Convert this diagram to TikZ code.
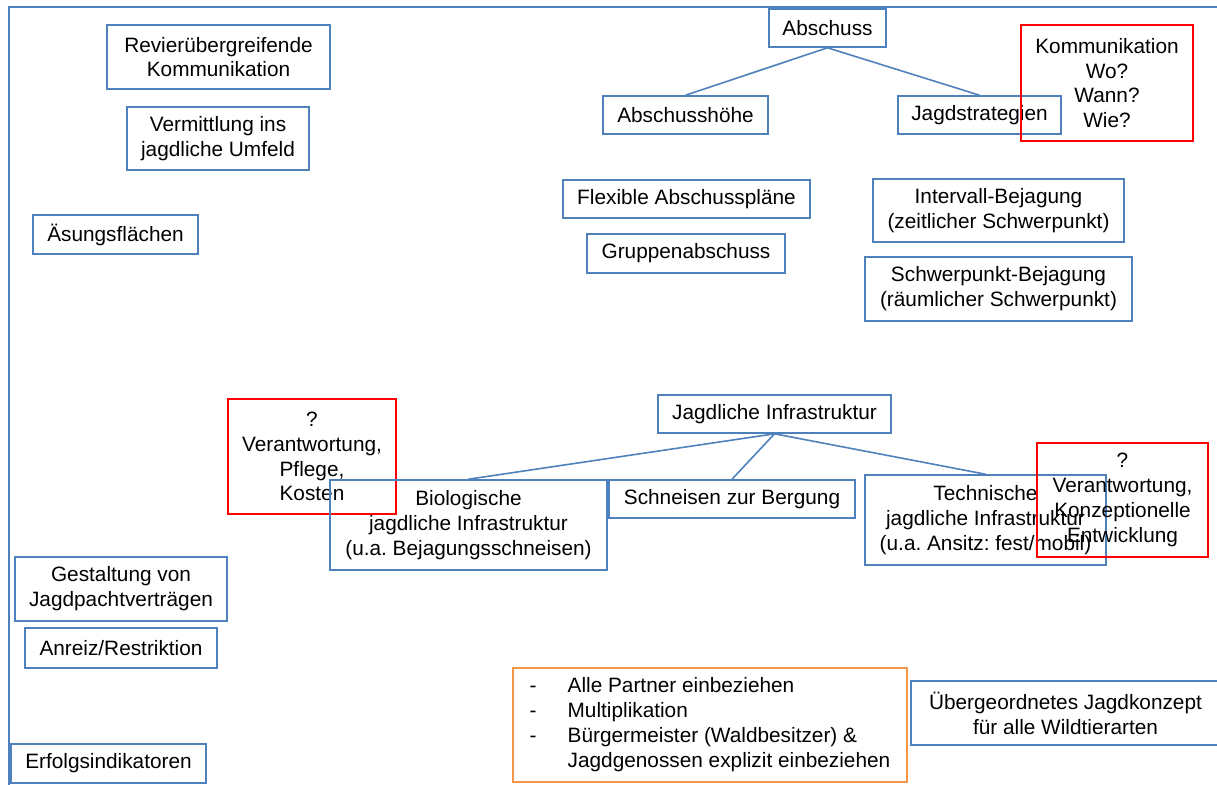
\documentclass[tikz,border=0pt]{standalone}
\usepackage{fontspec}
\setmainfont{Liberation Sans}
\definecolor{bl}{HTML}{4F81BD}
\definecolor{rd}{HTML}{FF0000}
\definecolor{og}{HTML}{F79646}
\begin{document}
\frenchspacing
\begin{tikzpicture}[x=0.75pt,y=-0.75pt,
  every node/.style={font=\fontsize{15.6}{18.6}\selectfont\frenchspacing, align=center, inner sep=0pt},
  bbox/.style={draw=bl, line width=1.2pt},
  rbox/.style={draw=rd, line width=1.2pt},
  obox/.style={draw=og, line width=1.2pt},
  link/.style={draw=bl, line width=1.2pt}]
\useasboundingbox (0,0) rectangle (1217,785);
\clip (0,0) rectangle (1217,785);
% frame
\coordinate (fr1) at (1217,7);
\coordinate (fr2) at (9,7);
\coordinate (fr3) at (9,785);
\draw[bl, line width=1.5pt] (fr1) -- (fr2) -- (fr3);
% left column
\node[bbox, minimum width=167.25pt, minimum height=48pt] (rev) at (218.5,57) {Revierübergreifende\\Kommunikation};
\node[bbox, minimum width=136.5pt, minimum height=47.25pt] (verm) at (218,138.5) {Vermittlung ins\\jagdliche Umfeld};
\node[bbox, minimum width=123.75pt, minimum height=29.25pt] (aes) at (115.5,234.5) {Äsungsflächen};
\node[bbox, minimum width=159pt, minimum height=48pt] (gest) at (121,589) {Gestaltung von\\Jagdpachtverträgen};
\node[bbox, minimum width=144pt, minimum height=30pt] (anr) at (121,648) {Anreiz/Restriktion};
\node[bbox, minimum width=146.25pt, minimum height=29.25pt] (erf) at (108.5,763.5) {Erfolgsindikatoren};
% Abschuss tree
\node[bbox, minimum width=87.75pt, minimum height=28.5pt] (absch) at (827.5,28) {Abschuss};
\node[bbox, minimum width=123.75pt, minimum height=28.5pt] (hoehe) at (685.5,115) {Abschusshöhe};
\node[bbox, minimum width=122.25pt, minimum height=28.5pt] (strat) at (979.5,115) {Jagdstrategien};
\node[rbox, minimum width=129pt, minimum height=87pt] (komm) at (1107,83) {Kommunikation\\Wo?\\Wann?\\Wie?};
\draw[link] (absch.south) -- (hoehe.north);
\draw[link] (absch.south) -- (strat.north);
\node[bbox, minimum width=185.25pt, minimum height=28.5pt] (flex) at (686.5,199) {Flexible Abschusspläne};
\node[bbox, minimum width=148.5pt, minimum height=29.25pt] (grup) at (686,253.5) {Gruppenabschuss};
\node[bbox, minimum width=188.25pt, minimum height=47.25pt] (interv) at (998.5,210.5) {Intervall-Bejagung\\(zeitlicher Schwerpunkt)};
\node[bbox, minimum width=200.25pt, minimum height=48pt] (schwer) at (998.5,289) {Schwerpunkt-Bejagung\\(räumlicher Schwerpunkt)};
% Infrastruktur tree
\node[bbox, minimum width=174.75pt, minimum height=28.5pt] (infra) at (774.5,414) {Jagdliche Infrastruktur};
\node[rbox, minimum width=126pt, minimum height=86.25pt] (red1) at (312,456.5) {?\\Verantwortung,\\Pflege,\\Kosten};
\node[bbox, minimum width=207.75pt, minimum height=67.5pt] (bio) at (468.5,525) {Biologische\\jagdliche Infrastruktur\\(u.a. Bejagungsschneisen)};
\node[bbox, minimum width=184.5pt, minimum height=28.5pt] (schn) at (732,499) {Schneisen zur Bergung};
\node[bbox, minimum width=180.75pt, minimum height=67.5pt] (tech) at (985.5,520) {Technische\\jagdliche Infrastruktur\\(u.a. Ansitz: fest/mobil)};
\node[rbox, minimum width=128.25pt, minimum height=85.5pt] (red2) at (1122.5,500) {?\\Verantwortung,\\Konzeptionelle\\Entwicklung};
\draw[link] (infra.south) -- (bio.north);
\draw[link] (infra.south) -- (schn.north);
\draw[link] (infra.south) -- (tech.north);
% bottom
\node[obox, minimum width=295.5pt, minimum height=85.5pt] (part) at (710,725) {\begin{tabular}{@{}p{28.5pt}@{}l@{}}
-&Alle Partner einbeziehen\\
-&Multiplikation\\
-&Bürgermeister (Waldbesitzer) \&\\
&Jagdgenossen explizit einbeziehen
\end{tabular}};
\node[bbox, minimum width=231.75pt, minimum height=48pt] (ueber) at (1065.5,713) {Übergeordnetes Jagdkonzept\\für alle Wildtierarten};
\end{tikzpicture}
\end{document}
